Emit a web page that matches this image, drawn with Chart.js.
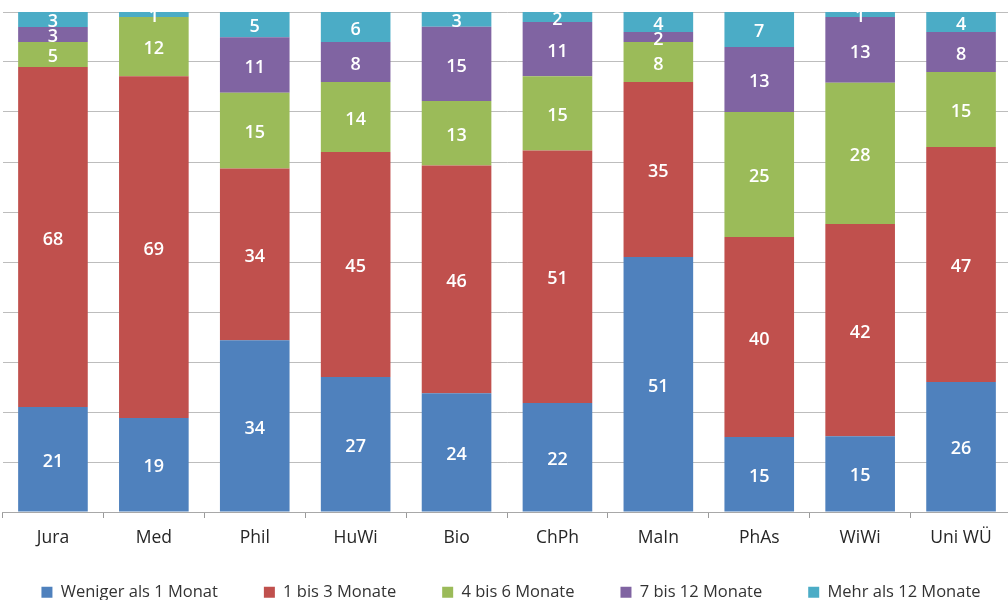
<!DOCTYPE html>
<html lang="de">
<head>
<meta charset="utf-8">
<title>Dauer der Stellensuche nach Fach</title>
<script src="https://cdn.jsdelivr.net/npm/chart.js@4/dist/chart.umd.min.js"></script>
<style>
  html, body { margin: 0; padding: 0; background: #ffffff; overflow: hidden; width: 1008px; height: 602px; }
  #wrap { position: absolute; left: -40px; top: 0; width: 1102px; height: 602px; }
</style>
</head>
<body>
<div id="wrap"><canvas id="chart" width="1102" height="602"></canvas></div>
<script>
// Fächer
const categories = ['Jura', 'Med', 'Phil', 'HuWi', 'Bio', 'ChPh', 'MaIn', 'PhAs', 'WiWi', 'Uni WÜ'];

// Anteile in Prozent je Suchdauer
const wenigerAls1 = [21, 19, 34, 27, 24, 22, 51, 15, 15, 26];
const bis3        = [68, 69, 34, 45, 46, 51, 35, 40, 42, 47];
const bis6        = [ 5, 12, 15, 14, 13, 15,  8, 25, 28, 15];
const bis12       = [ 3, null, 11,  8, 15, 11,  2, 13, 13,  8];
const mehrAls12   = [ 3,  1,  5,  6,  3,  2,  4,  7,  1,  4];

const seriesNames = ['Weniger als 1 Monat', '1 bis 3 Monate', '4 bis 6 Monate', '7 bis 12 Monate', 'Mehr als 12 Monate'];
const seriesColors = ['#4F81BD', '#C0504D', '#9BBB59', '#8064A2', '#4BACC6'];
const seriesValues = [wenigerAls1, bis3, bis6, bis12, mehrAls12];

// Jede Säule wird auf 100 % normiert (gerundete Werte summieren nicht immer auf 100)
const totals = categories.map((_, i) => seriesValues.reduce((s, arr) => s + (arr[i] || 0), 0));

const datasets = seriesValues.map((arr, k) => ({
  label: seriesNames[k],
  raw: arr,
  data: arr.map((v, i) => v == null ? null : v / totals[i] * 100),
  backgroundColor: seriesColors[k],
  borderWidth: 0,
  categoryPercentage: 1,
  barPercentage: 0.69
}));

const FONT = "'Open Sans', 'DejaVu Sans', sans-serif";
const LEGEND_PAD = 46;
const LEGEND_HEIGHT = 62;

// Wertbeschriftung mittig in jedem Segment
const segmentLabels = {
  id: 'segmentLabels',
  afterDatasetsDraw(chart) {
    const ctx = chart.ctx;
    ctx.save();
    ctx.fillStyle = '#ffffff';
    ctx.font = '600 18px ' + FONT;
    ctx.textAlign = 'center';
    ctx.textBaseline = 'middle';
    chart.data.datasets.forEach((ds, di) => {
      const meta = chart.getDatasetMeta(di);
      meta.data.forEach((bar, i) => {
        const v = ds.raw[i];
        if (v == null) return;
        const p = bar.getProps(['x', 'y', 'base'], true);
        ctx.fillText(String(v), p.x, (p.y + p.base) / 2 + 2.5);
      });
    });
    ctx.restore();
  }
};

// Legende: großer Abstand zwischen den Einträgen, aber flache Box
const compactLegend = {
  id: 'compactLegend',
  afterInit(chart) {
    const legend = chart.legend;
    if (!legend) return;
    const fit = legend.fit.bind(legend);
    legend.fit = function () {
      fit();
      this.height = LEGEND_HEIGHT;
    };
  }
};

new Chart(document.getElementById('chart'), {
  type: 'bar',
  data: { labels: categories, datasets },
  plugins: [segmentLabels, compactLegend],
  options: {
    responsive: false,
    animation: false,
    layout: { padding: { left: 0, right: 0, top: 12, bottom: 2 } },
    plugins: {
      tooltip: { enabled: false },
      legend: {
        position: 'bottom',
        labels: {
          boxWidth: 11,
          boxHeight: 11,
          padding: LEGEND_PAD,
          color: '#333333',
          font: { family: FONT, size: 16.5 }
        }
      }
    },
    scales: {
      x: {
        stacked: true,
        offset: true,
        grid: {
          offset: true,
          drawOnChartArea: false,
          drawTicks: true,
          tickLength: 6,
          color: '#9a9a9a'
        },
        border: { color: '#a8a8a8', width: 1 },
        ticks: {
          color: '#262626',
          padding: 10,
          font: { family: FONT, size: 17.5 }
        },
        afterFit(scale) {
          scale.height = 26;
          // Beschriftung nicht auf die flache Achsenbox beschneiden
          scale._computeLabelArea = () => undefined;
        }
      },
      y: {
        stacked: true,
        min: 0,
        max: 100,
        ticks: { display: false, stepSize: 10 },
        grid: { color: '#bdbdbd', lineWidth: 1, drawTicks: false },
        border: { display: false },
        afterFit(scale) { scale.width = 42.5; }
      },
      yRight: {
        position: 'right',
        min: 0,
        max: 100,
        ticks: { display: false },
        grid: { drawOnChartArea: false, drawTicks: false },
        border: { display: false },
        afterFit(scale) { scale.width = 50.5; }
      }
    }
  }
});
</script>
</body>
</html>
